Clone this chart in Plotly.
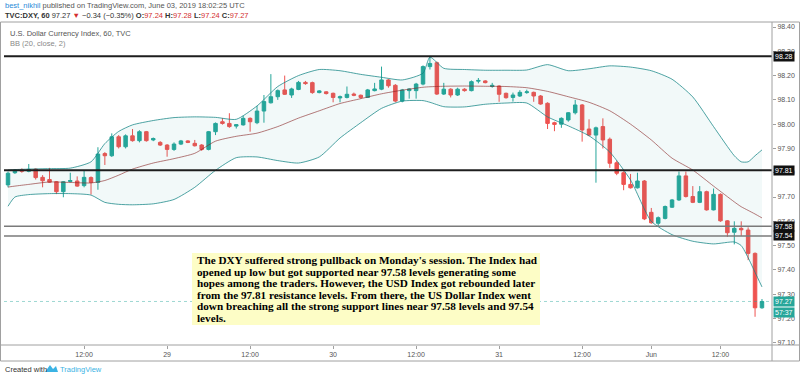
import plotly.graph_objects as go

# ---------------- data ----------------
bar_index = list(range(110))
opens = [97.750, 97.800, 97.812, 97.806, 97.815, 97.781, 97.772, 97.763, 97.722, 97.764,
         97.766, 97.747, 97.780, 97.760, 97.879, 97.870, 97.948, 97.907, 97.952, 97.932,
         97.969, 97.935, 97.925, 97.914, 97.896, 97.918, 97.931, 97.921, 97.914, 97.896,
         97.969, 98.010, 98.003, 97.992, 97.997, 98.024, 98.006, 98.054, 98.088, 98.113,
         98.141, 98.120, 98.143, 98.172, 98.171, 98.130, 98.133, 98.127, 98.108, 98.110,
         98.124, 98.119, 98.110, 98.138, 98.144, 98.182, 98.160, 98.095, 98.138, 98.138,
         98.165, 98.237, 98.253, 98.124, 98.144, 98.120, 98.144, 98.138, 98.177, 98.178,
         98.155, 98.157, 98.127, 98.110, 98.116, 98.130, 98.131, 98.116, 98.086, 98.006,
         98.000, 98.017, 98.047, 98.079, 97.980, 97.955, 97.990, 97.938, 97.841, 97.800,
         97.752, 97.738, 97.766, 97.637, 97.592, 97.612, 97.658, 97.688, 97.787, 97.702,
         97.678, 97.722, 97.647, 97.711, 97.602, 97.555, 97.571, 97.564, 97.468, 97.244]
highs = [97.805, 97.815, 97.818, 97.836, 97.818, 97.790, 97.820, 97.766, 97.766, 97.800,
         97.785, 97.810, 97.785, 97.905, 97.885, 97.962, 97.955, 97.958, 97.980, 97.975,
         97.972, 97.945, 97.930, 97.918, 97.925, 97.935, 97.934, 97.935, 97.918, 97.972,
         98.007, 98.025, 98.045, 98.000, 98.035, 98.028, 98.075, 98.120, 98.206, 98.143,
         98.200, 98.150, 98.178, 98.178, 98.175, 98.140, 98.136, 98.130, 98.118, 98.155,
         98.130, 98.122, 98.145, 98.170, 98.237, 98.186, 98.165, 98.145, 98.148, 98.170,
         98.242, 98.281, 98.258, 98.170, 98.148, 98.150, 98.148, 98.180, 98.190, 98.181,
         98.170, 98.160, 98.130, 98.130, 98.140, 98.142, 98.134, 98.120, 98.090, 98.010,
         98.028, 98.050, 98.100, 98.083, 98.020, 97.990, 98.024, 97.945, 97.850, 97.806,
         97.795, 97.800, 97.770, 97.655, 97.620, 97.665, 97.692, 97.805, 97.805, 97.745,
         97.745, 97.726, 97.735, 97.715, 97.605, 97.600, 97.600, 97.575, 97.472, 97.280]
lows = [97.740, 97.795, 97.800, 97.802, 97.772, 97.740, 97.758, 97.712, 97.699, 97.760,
        97.742, 97.740, 97.710, 97.730, 97.832, 97.865, 97.900, 97.900, 97.928, 97.925,
        97.928, 97.930, 97.910, 97.866, 97.890, 97.914, 97.922, 97.908, 97.890, 97.892,
        97.955, 97.998, 97.985, 97.982, 97.994, 97.969, 98.000, 98.006, 98.085, 98.100,
        98.120, 98.108, 98.140, 98.162, 98.125, 98.127, 98.122, 98.090, 98.090, 98.106,
        98.115, 98.105, 98.108, 98.135, 98.140, 98.150, 98.090, 98.090, 98.105, 98.105,
        98.160, 98.225, 98.120, 98.120, 98.110, 98.116, 98.134, 98.135, 98.168, 98.168,
        98.150, 98.092, 98.105, 98.093, 98.112, 98.125, 98.092, 98.080, 97.980, 97.971,
        97.985, 98.010, 98.040, 97.928, 97.950, 97.759, 97.900, 97.820, 97.790, 97.728,
        97.735, 97.735, 97.605, 97.590, 97.578, 97.608, 97.655, 97.684, 97.698, 97.675,
        97.675, 97.644, 97.645, 97.598, 97.536, 97.505, 97.540, 97.440, 97.207, 97.240]
closes = [97.798, 97.808, 97.806, 97.814, 97.780, 97.767, 97.761, 97.722, 97.763, 97.768,
          97.745, 97.781, 97.760, 97.877, 97.870, 97.948, 97.907, 97.952, 97.932, 97.969,
          97.932, 97.941, 97.914, 97.896, 97.918, 97.931, 97.925, 97.911, 97.896, 97.969,
          98.003, 98.003, 97.990, 97.998, 98.024, 98.010, 98.054, 98.093, 98.113, 98.138,
          98.123, 98.145, 98.172, 98.167, 98.130, 98.137, 98.126, 98.110, 98.113, 98.123,
          98.119, 98.110, 98.141, 98.145, 98.182, 98.158, 98.095, 98.141, 98.145, 98.165,
          98.237, 98.250, 98.124, 98.144, 98.120, 98.144, 98.138, 98.175, 98.180, 98.171,
          98.160, 98.123, 98.109, 98.120, 98.131, 98.133, 98.116, 98.083, 98.003, 97.999,
          98.024, 98.047, 98.079, 97.976, 97.955, 97.985, 97.935, 97.839, 97.798, 97.752,
          97.738, 97.766, 97.610, 97.594, 97.615, 97.661, 97.688, 97.787, 97.702, 97.678,
          97.722, 97.647, 97.711, 97.602, 97.553, 97.571, 97.565, 97.468, 97.244, 97.270]

bb_index = [0, 1, 3, 6, 9, 12, 14, 16, 18, 21, 24, 27, 30, 33, 36, 39, 42, 45, 48, 51,
            54, 57, 60, 61, 63, 66, 69, 72, 75, 78, 81, 84, 87, 90, 93, 96, 99, 102, 105,
            106, 107, 108, 109]
bb_upper = [97.811, 97.813, 97.815, 97.817, 97.819, 97.845, 97.920, 97.970, 97.997, 98.015,
            98.027, 98.030, 98.028, 98.020, 98.075, 98.155, 98.200, 98.225, 98.220, 98.205,
            98.193, 98.182, 98.210, 98.276, 98.230, 98.225, 98.222, 98.222, 98.223, 98.245,
            98.220, 98.228, 98.240, 98.235, 98.220, 98.185, 98.112, 97.990, 97.870,
            97.845, 97.845, 97.870, 97.894]
bb_lower = [97.662, 97.700, 97.710, 97.714, 97.714, 97.708, 97.678, 97.670, 97.668, 97.672,
            97.690, 97.740, 97.810, 97.862, 97.865, 97.850, 97.840, 97.865, 97.943, 98.006,
            98.065, 98.095, 98.097, 98.090, 98.072, 98.071, 98.082, 98.087, 98.087, 98.030,
            97.993, 97.952, 97.885, 97.770, 97.600, 97.545, 97.518, 97.507, 97.515,
            97.500, 97.450, 97.390, 97.330]
bb_basis = [97.741, 97.745, 97.752, 97.762, 97.760, 97.758, 97.768, 97.790, 97.815, 97.840,
            97.858, 97.880, 97.930, 97.950, 97.963, 97.990, 98.025, 98.055, 98.085, 98.105,
            98.125, 98.140, 98.152, 98.154, 98.156, 98.157, 98.156, 98.155, 98.150, 98.135,
            98.113, 98.090, 98.055, 98.000, 97.935, 97.860, 97.811, 97.745, 97.680,
            97.660, 97.645, 97.630, 97.614]

price_ticks = [98.40, 98.30, 98.20, 98.10, 98.00, 97.90, 97.80, 97.70, 97.60, 97.50,
               97.40, 97.30, 97.20, 97.10]
time_tick_pos = [11, 23, 35, 47, 59, 71, 83, 93, 103]
time_tick_text = ["12:00", "29", "12:00", "30", "12:00", "31", "12:00", "Jun", "12:00"]

levels = [98.28, 97.81, 97.58, 97.54]
level_width = [2, 2, 1.5, 1.5]
level_color = ["#1e1e1e", "#1e1e1e", "#7a7a7a", "#7a7a7a"]
last_price = 97.27
countdown = "57:37"

comment_lines = [
    "The DXY suffered strong pullback on Monday's session. The Index had",
    "opened up low but got supported near 97.58 levels generating some",
    "hopes among the traders. However, the USD Index got rebounded later",
    "from the 97.81 resistance levels. From there, the US Dollar Index went",
    "down breaching all the strong support lines near 97.58 levels and 97.54",
    "levels.",
]

# ---------------- figure ----------------
W, H = 800, 378
L, R, T, B = 4, 28, 22, 33
PW, PH = W - L - R, H - T - B


def px(x):
    return (x - L) / PW


def py(y):
    return (H - B - y) / PH


GREEN = "#26a69a"
RED = "#ef5350"
TEAL = "rgba(19,132,132,0.75)"

fig = go.Figure()

fig.add_trace(go.Scatter(x=bb_index, y=bb_upper, mode="lines",
                         line=dict(color=TEAL, width=1, shape="spline", smoothing=0.6),
                         hoverinfo="skip", showlegend=False))
fig.add_trace(go.Scatter(x=bb_index, y=bb_lower, mode="lines",
                         line=dict(color=TEAL, width=1, shape="spline", smoothing=0.6),
                         fill="tonexty", fillcolor="rgba(33,150,150,0.06)",
                         hoverinfo="skip", showlegend=False))
fig.add_trace(go.Scatter(x=bb_index, y=bb_basis, mode="lines",
                         line=dict(color="rgba(135,35,35,0.6)", width=1, shape="spline", smoothing=0.6),
                         hoverinfo="skip", showlegend=False))

fig.add_trace(go.Candlestick(
    x=bar_index, open=opens, high=highs, low=lows, close=closes,
    increasing=dict(line=dict(color=GREEN, width=1), fillcolor=GREEN),
    decreasing=dict(line=dict(color=RED, width=1), fillcolor=RED),
    showlegend=False))

shapes = []
for lv, lw, lc in zip(levels, level_width, level_color):
    shapes.append(dict(type="line", xref="paper", yref="y", x0=0, x1=1, y0=lv, y1=lv,
                       line=dict(color=lc, width=lw)))
shapes.append(dict(type="line", xref="paper", yref="y", x0=0, x1=1, y0=last_price, y1=last_price,
                   line=dict(color="rgba(38,166,154,0.45)", width=1, dash="dot")))
# chart frame
frame = "#a0a0a0"
shapes.append(dict(type="rect", xref="paper", yref="paper", x0=px(0.5), x1=px(799.5),
                   y0=py(361), y1=py(22), line=dict(color=frame, width=1)))
shapes.append(dict(type="line", xref="paper", yref="paper", x0=1, x1=1, y0=py(361), y1=py(22),
                   line=dict(color=frame, width=1)))
shapes.append(dict(type="line", xref="paper", yref="paper", x0=px(0.5), x1=px(799.5), y0=0, y1=0,
                   line=dict(color=frame, width=1)))
# comment box
shapes.append(dict(type="rect", xref="paper", yref="paper", x0=px(192), x1=px(540),
                   y0=py(325), y1=py(253), fillcolor="#fdfdc6", line=dict(width=0), layer="above"))
# TradingView logo (small)
shapes.append(dict(type="path", xref="paper", yref="paper",
                   path=f"M {px(45)} {py(372)} L {px(50)} {py(365)} L {px(53)} {py(369)} L {px(56)} {py(366)} L {px(58)} {py(372)} Z",
                   fillcolor="#3bb3e4", line=dict(width=0)))

ann = []
FONT = "Liberation Sans"
ann.append(dict(xref="paper", yref="paper", x=px(3), y=py(5.5), xanchor="left", yanchor="middle",
                showarrow=False, font=dict(family=FONT, size=7.5, color="#555555"),
                text="<span style='color:#2a8ad8'>best_nikhil</span> published on TradingView.com, June 03, 2019 18:02:25 UTC"))
ann.append(dict(xref="paper", yref="paper", x=px(3), y=py(15.5), xanchor="left", yanchor="middle",
                showarrow=False, font=dict(family=FONT, size=7.5, color="#333333"),
                text="<b>TVC:DXY, 60</b> 97.27 <span style='color:#d32f2f'>▼</span> −0.34 (−0.35%) "
                     "<b>O:</b><span style='color:#d32f2f'>97.24</span> <b>H:</b><span style='color:#d32f2f'>97.28</span> "
                     "<b>L:</b><span style='color:#d32f2f'>97.24</span> <b>C:</b><span style='color:#d32f2f'>97.27</span>"))
ann.append(dict(xref="paper", yref="paper", x=px(8), y=py(33.5), xanchor="left", yanchor="middle",
                showarrow=False, font=dict(family=FONT, size=7.5, color="#555555"),
                text="U.S. Dollar Currency Index, 60, TVC"))
ann.append(dict(xref="paper", yref="paper", x=px(8), y=py(43.5), xanchor="left", yanchor="middle",
                showarrow=False, font=dict(family=FONT, size=7.5, color="#888888"),
                text="BB (20, close, 2)"))
ann.append(dict(xref="paper", yref="paper", x=px(3), y=py(369), xanchor="left", yanchor="middle",
                showarrow=False, font=dict(family=FONT, size=7.5, color="#333333"),
                text="Created with"))
ann.append(dict(xref="paper", yref="paper", x=px(58), y=py(369), xanchor="left", yanchor="middle",
                showarrow=False, font=dict(family=FONT, size=7.5, color="#3bb3e4"),
                text="TradingView"))

for lv in levels:
    ann.append(dict(xref="paper", yref="y", x=1, y=lv, xanchor="left", yanchor="middle", xshift=1,
                    showarrow=False, bgcolor="#111111", borderpad=1,
                    font=dict(family=FONT, size=7, color="white"), text=f"{lv:.2f}"))
ann.append(dict(xref="paper", yref="y", x=1, y=last_price, xanchor="left", yanchor="middle", xshift=1,
                showarrow=False, bgcolor=GREEN, borderpad=1,
                font=dict(family=FONT, size=7, color="white"), text=f"{last_price:.2f}"))
ann.append(dict(xref="paper", yref="y", x=1, y=last_price, xanchor="left", yanchor="middle", xshift=1,
                yshift=-11, showarrow=False, bgcolor=GREEN, borderpad=1,
                font=dict(family=FONT, size=7, color="white"), text=countdown))

for k, line in enumerate(comment_lines):
    ann.append(dict(xref="paper", yref="paper", x=px(195), y=py(260 + k * 11.5), xanchor="left",
                    yanchor="middle", align="left", showarrow=False,
                    font=dict(family="Liberation Serif", size=11.2, color="#000000"),
                    text="<b>" + line + "</b>"))

fig.update_layout(
    width=W, height=H,
    margin=dict(l=L, r=R, t=T, b=B, autoexpand=False),
    paper_bgcolor="white", plot_bgcolor="white",
    showlegend=False,
    boxgap=0.28,
    xaxis=dict(range=[-0.58, 110.45], rangeslider=dict(visible=False), showgrid=False,
               zeroline=False, tickmode="array", tickvals=time_tick_pos, ticktext=time_tick_text,
               ticks="outside", ticklen=3, tickcolor="#a0a0a0", automargin=False,
               tickfont=dict(family=FONT, size=7, color="#555555")),
    yaxis=dict(range=[97.0908, 98.4206], side="right", showgrid=False, zeroline=False,
               tickmode="array", tickvals=price_ticks, ticktext=[f"{v:.2f}" for v in price_ticks],
               ticks="outside", ticklen=3, tickcolor="#a0a0a0", automargin=False,
               tickfont=dict(family=FONT, size=7, color="#555555")),
    shapes=shapes,
    annotations=ann,
)

fig.write_html("out.html", config={"displayModeBar": False},
               post_script="document.body.style.margin='0';document.body.style.overflow='hidden';")
